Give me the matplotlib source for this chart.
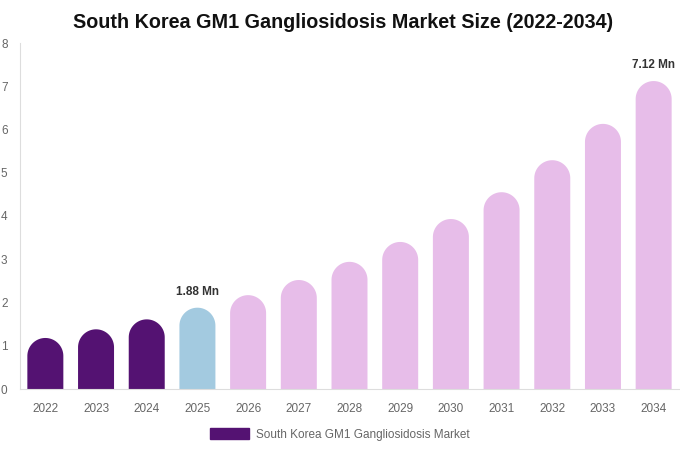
import numpy as np
import matplotlib.pyplot as plt
from matplotlib.patches import Polygon, Patch

plt.rcParams['font.family'] = ['Liberation Sans', 'DejaVu Sans']

years = ['2022', '2023', '2024', '2025', '2026', '2027', '2028', '2029',
         '2030', '2031', '2032', '2033', '2034']
values = [1.18, 1.38, 1.61, 1.88, 2.17, 2.52, 2.94, 3.40, 3.93, 4.55, 5.29, 6.13, 7.12]
labels = {3: '1.88 Mn', 12: '7.12 Mn'}

dark = '#541272'
blue = '#a3cae0'
pink = '#e7bde9'
colors = [dark] * 3 + [blue] + [pink] * 9

fig = plt.figure(figsize=(6.8, 4.5), dpi=100)
ax = fig.add_axes([20 / 680, 61 / 450, 659 / 680, 346 / 450])
ax.set_xlim(-0.5, len(years) - 0.5)
ax.set_ylim(0, 8)

w = 0.71
# round caps: half-width in pixels converted to y data units
px_per_x = 659 / len(years)
px_per_y = 346 / 8
ry = (w / 2) * px_per_x / px_per_y
t = np.linspace(0, np.pi, 60)

x = np.arange(len(years))
for i, v in enumerate(values):
    cx, cy = x[i], v - ry
    arc = np.column_stack([cx + (w / 2) * np.cos(t), cy + ry * np.sin(t)])
    pts = np.vstack([[cx + w / 2, 0], arc, [cx - w / 2, 0]])
    ax.add_patch(Polygon(pts, closed=True, facecolor=colors[i], edgecolor='none'))
    if i in labels:
        ax.annotate(labels[i], (x[i], v), xytext=(0, 7), textcoords='offset points',
                    ha='center', va='bottom', fontsize=8.5, fontweight='bold', color='#333333')

ax.set_xticks(x)
ax.set_xticklabels(years)
ax.set_yticks(range(0, 9))
ax.tick_params(length=0, colors='#666666', labelsize=8.5)
ax.tick_params(axis='x', pad=10)
ax.tick_params(axis='y', pad=9)
for s in ['top', 'right']:
    ax.spines[s].set_visible(False)
for s in ['left', 'bottom']:
    ax.spines[s].set_color('#dddddd')
    ax.spines[s].set_linewidth(0.8)

fig.suptitle('South Korea GM1 Gangliosidosis Market Size (2022-2034)',
             x=0.505, y=0.97, fontsize=14.2, fontweight='bold', color='#111111')

fig.legend(handles=[Patch(color=dark, label='South Korea GM1 Gangliosidosis Market')],
           loc='lower center', bbox_to_anchor=(0.5, -0.003), frameon=False,
           fontsize=8.5, handlelength=3.3, handleheight=1.0, handletextpad=0.6,
           labelcolor='#666666')

fig.savefig('out.png', dpi=100)
